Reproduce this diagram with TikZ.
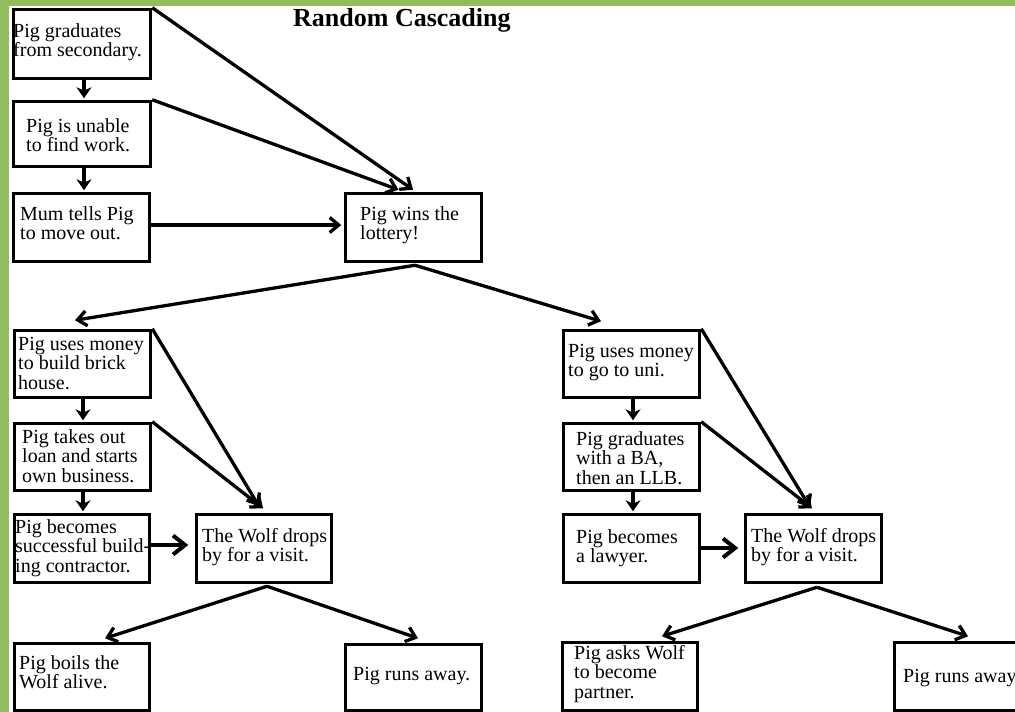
\documentclass[tikz,border=0pt]{standalone}
\usepackage{fontspec}
\setmainfont{Liberation Serif}
\usetikzlibrary{arrows.meta}
% left-aligned block of lines whose baseline is the first line
\newcommand\linesblock[1]{\begin{tabular}[t]{@{}l@{}}#1\end{tabular}}
\definecolor{framegreen}{RGB}{147,188,94}
\tikzset{
  box/.style 2 args={draw=black, line width=3.5pt, inner sep=0pt,
    minimum width=#1pt, minimum height=#2pt},
  txt/.style={inner sep=0pt, anchor=base west,
    font=\fontsize{20}{19.5}\selectfont},
  title/.style={inner sep=0pt, anchor=base west,
    font=\fontsize{26}{28}\selectfont\bfseries},
  link/.style={line width=3.3pt, -{Straight Barb[length=9pt,width=15pt]}},
  stepdown/.style={line width=4.5pt, -{Stealth[length=11pt,width=15pt,inset=3.5pt]},
    shorten >=1.5pt},
  bigarrow/.style={line width=4pt, -{Straight Barb[length=12pt,width=19pt]}}
}
\begin{document}
\begin{tikzpicture}[x=1pt,y=-1pt]
  \clip (0,0) rectangle (1015,712);
  \fill[white] (0,0) rectangle (1015,712);
  % frame bars
  \fill[framegreen] (0,0) rectangle (1015,6);
  \fill[framegreen] (0,0) rectangle (9,712);

  \node[title] (ttl) at (293,26) {Random Cascading};

  % left column, first stage
  \node[box={137}{69}] (A) at (82,44) {};
  \node[box={137}{65}] (B) at (82,134) {};
  \node[box={136}{68}] (C) at (81.5,227.5) {};
  \node[box={136}{68}] (D) at (413.5,227.5) {};

  \node[txt] (At) at (13,37) {\linesblock{Pig graduates\\from secondary.}};
  \node[txt] (Bt) at (26,132) {\linesblock{Pig is unable\\to find work.}};
  \node[txt] (Ct) at (20,220) {\linesblock{Mum tells Pig\\to move out.}};
  \node[txt] (Dt) at (360,220) {\linesblock{Pig wins the\\lottery!}};

  % left branch
  \node[box={136}{67}] (E) at (82.5,364) {};
  \node[box={136}{67}] (G) at (82.5,457) {};
  \node[box={135}{68}] (H) at (82,548.5) {};
  \node[box={135}{68}] (W1) at (264,548.5) {};
  \node[box={135}{67}] (I) at (82,677) {};
  \node[box={136}{66}] (J) at (413.5,677.5) {};

  \node[txt] (Et) at (18,350) {\linesblock{Pig uses money\\to build brick\\house.}};
  \node[txt] (Gt) at (22,443) {\linesblock{Pig takes out\\loan and starts\\own business.}};
  \node[txt] (Ht) at (15,533) {\linesblock{Pig becomes\\successful build-\\ing contractor.}};
  \node[txt] (W1t) at (202,542) {\linesblock{The Wolf drops\\by for a visit.}};
  \node[txt] (It) at (19,669) {\linesblock{Pig boils the\\Wolf alive.}};
  \node[txt] (Jt) at (353,680) {Pig runs away.};

  % right branch
  \node[box={136}{67}] (F) at (631.5,364) {};
  \node[box={136}{67}] (K) at (631.5,457) {};
  \node[box={136}{68}] (L) at (631.5,548.5) {};
  \node[box={136}{68}] (W2) at (813.5,548.5) {};
  \node[box={135}{68}] (M) at (630,676.5) {};
  \node[box={136}{68}] (N) at (962.5,676.5) {};

  \node[txt] (Ft) at (568,357) {\linesblock{Pig uses money\\to go to uni.}};
  \node[txt] (Kt) at (576,445) {\linesblock{Pig graduates\\with a BA,\\then an LLB.}};
  \node[txt] (Lt) at (576,543) {\linesblock{Pig becomes\\a lawyer.}};
  \node[txt] (W2t) at (751,542) {\linesblock{The Wolf drops\\by for a visit.}};
  \node[txt] (Mt) at (574,659) {\linesblock{Pig asks Wolf\\to become\\partner.}};
  \node[txt] (Nt) at (903,682) {Pig runs away};

  % short steps down each column
  \draw[stepdown] ([xshift=2pt]A.south) -- ([xshift=2pt]B.north);
  \draw[stepdown] ([xshift=2pt]B.south) -- ([xshift=2.5pt]C.north);
  \draw[stepdown] ([xshift=0.5pt]E.south) -- ([xshift=0.5pt]G.north);
  \draw[stepdown] ([xshift=0.5pt]G.south) -- ([xshift=1pt]H.north);
  \draw[stepdown] ([xshift=1.5pt]F.south) -- ([xshift=1.5pt]K.north);
  \draw[stepdown] ([xshift=1.5pt]K.south) -- ([xshift=1.5pt]L.north);

  % into the lottery
  \draw[link] (A.north east) -- ([xshift=-0.5pt,yshift=2pt]D.north);
  \draw[link] (B.north east) -- ([xshift=-15pt,yshift=2pt]D.north);
  \draw[link] ([yshift=2.5pt]C.east) -- ([xshift=-2.5pt,yshift=2.5pt]D.west);

  % lottery splits
  \draw[link] ([xshift=1.5pt,yshift=-2pt]D.south) -- ([xshift=-7.5pt,yshift=8.5pt]E.north);
  \draw[link] ([xshift=1.5pt,yshift=-2pt]D.south) -- ([xshift=-30.5pt,yshift=7.5pt]F.north);

  % left branch into the wolf visit
  \draw[link] (E.north east) -- ([xshift=-5pt,yshift=6.5pt]W1.north);
  \draw[link] (G.north east) -- ([xshift=-1pt,yshift=4.5pt]W1.north);
  \draw[bigarrow] ([xshift=-3pt,yshift=3.5pt]H.east) -- ([xshift=-6.5pt,yshift=3.5pt]W1.west);
  \draw[link] ([xshift=3pt,yshift=-2pt]W1.south) -- ([xshift=23pt,yshift=3.5pt]I.north);
  \draw[link] ([xshift=3pt,yshift=-2pt]W1.south) -- ([xshift=4.5pt,yshift=4.5pt]J.north);

  % right branch into the wolf visit
  \draw[link] (F.north east) -- ([xshift=-3.5pt,yshift=5.5pt]W2.north);
  \draw[link] (K.north east) -- ([xshift=-1.5pt,yshift=4.5pt]W2.north);
  \draw[bigarrow] ([yshift=0.5pt]L.east) -- ([xshift=-5.5pt,yshift=0.5pt]W2.west);
  \draw[link] ([xshift=3.5pt,yshift=-3pt]W2.south) -- ([xshift=32pt,yshift=4.5pt]M.north);
  \draw[link] ([xshift=3.5pt,yshift=-3pt]W2.south) -- ([xshift=5.5pt,yshift=4.5pt]N.north);
\end{tikzpicture}
\end{document}
